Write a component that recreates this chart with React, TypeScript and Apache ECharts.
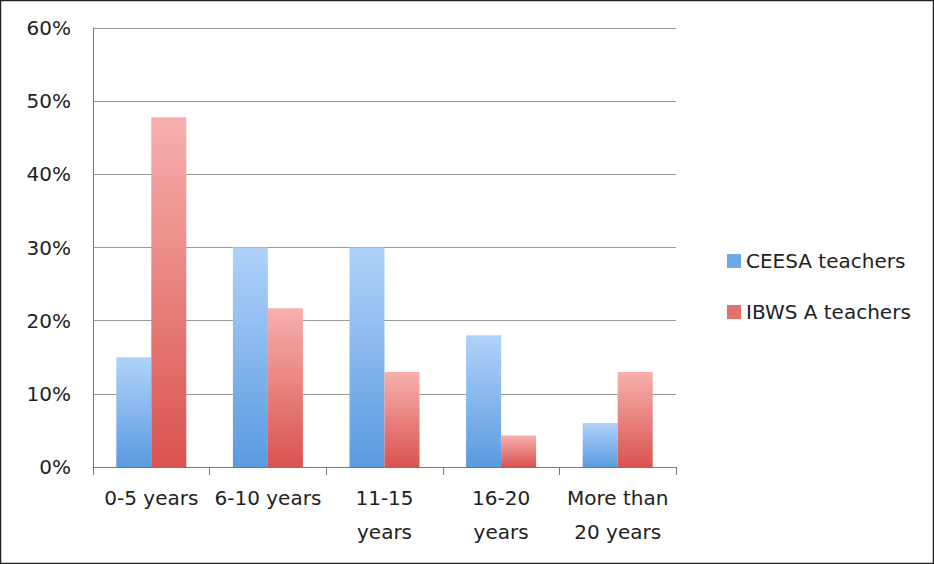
import { useEffect, useRef } from "react";
import * as echarts from "echarts";

const categories = ["0-5 years", "6-10 years", "11-15\nyears", "16-20\nyears", "More than\n20 years"];
const ceesa = [15, 30, 30, 18, 6];
const ibws = [47.8, 21.7, 13, 4.3, 13];
const yTicks = [0, 10, 20, 30, 40, 50, 60];

const blue = new echarts.graphic.LinearGradient(0, 0, 0, 1, [
  { offset: 0, color: "#b0d2fa" },
  { offset: 1, color: "#5a9ae0" },
]);
const red = new echarts.graphic.LinearGradient(0, 0, 0, 1, [
  { offset: 0, color: "#f7b0ae" },
  { offset: 1, color: "#d9534f" },
]);

export default function App() {
  const chartRef = useRef<HTMLDivElement>(null);

  useEffect(() => {
    if (!chartRef.current) return;
    document.body.style.margin = "0";
    const chart = echarts.init(chartRef.current, null, { renderer: "svg" });
    chart.setOption({
      animation: false,
      textStyle: { fontFamily: "DejaVu Sans" },
      graphic: [
        {
          type: "rect",
          shape: { x: 0.5, y: 0.5, width: 933, height: 563 },
          style: { fill: "none", stroke: "#222", lineWidth: 1.5 },
        },
      ],
      grid: { left: 93, top: 28, right: 258, bottom: 97 },
      legend: {
        orient: "vertical",
        left: 722,
        top: 246,
        itemGap: 31,
        itemWidth: 14,
        itemHeight: 14,
        icon: "rect",
        textStyle: { fontSize: 20, color: "#222", fontFamily: "DejaVu Sans" },
        data: [
          { name: "CEESA teachers", itemStyle: { color: "#6ea8e8" } },
          { name: "IBWS A teachers", itemStyle: { color: "#e5716d" } },
        ],
      },
      xAxis: {
        type: "category",
        data: categories,
        axisLine: { lineStyle: { color: "#777" } },
        axisTick: { show: true, length: 8, lineStyle: { color: "#777" } },
        axisLabel: { interval: 0, fontSize: 20, color: "#222", margin: 14, lineHeight: 34 },
      },
      yAxis: {
        type: "value",
        min: yTicks[0],
        max: yTicks[yTicks.length - 1],
        interval: 10,
        axisLine: { show: true, lineStyle: { color: "#777" } },
        axisLabel: { fontSize: 20, color: "#222", formatter: "{value}%", margin: 22 },
        splitLine: { lineStyle: { color: "#999" } },
      },
      series: [
        { name: "CEESA teachers", type: "bar", data: ceesa, barWidth: 35, barGap: "0%", itemStyle: { color: blue } },
        { name: "IBWS A teachers", type: "bar", data: ibws, barWidth: 35, itemStyle: { color: red } },
      ],
    });
    return () => chart.dispose();
  }, []);

  return <div ref={chartRef} style={{ width: 934, height: 564 }} />;
}
